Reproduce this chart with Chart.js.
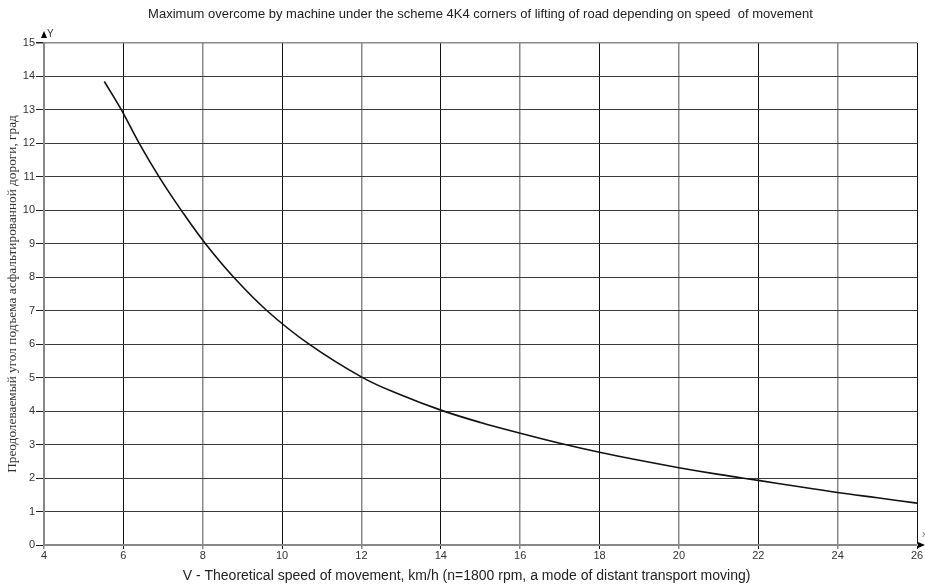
<!DOCTYPE html>
<html>
<head>
<meta charset="utf-8">
<script src="https://cdn.jsdelivr.net/npm/chart.js@4"></script>
<style>
html,body{margin:0;padding:0;background:#fff;}
#wrap{width:925px;height:586px;position:relative;}
</style>
</head>
<body>
<div id="wrap"><canvas id="c" width="925" height="586"></canvas></div>
<script>
const titleText = "Maximum overcome by machine under the scheme 4K4 corners of lifting of road depending on speed  of movement";
const xTitle = "V - Theoretical speed of movement, km/h (n=1800 rpm, a mode of distant transport moving)";
const yTitle = "Преодолеваемый угол подъема асфальтированной дороги, град";
const speeds = [5.52, 5.95, 6.4, 6.9, 7.46, 8.07, 8.78, 9.62, 10.68, 12.03, 13, 14, 15, 16, 17, 18, 19, 20, 21, 22, 23, 24, 25, 26];
const angles = [13.85, 13, 12, 11, 10, 9, 8, 7, 6, 5, 4.48, 4.03, 3.66, 3.34, 3.04, 2.77, 2.53, 2.31, 2.11, 1.93, 1.75, 1.57, 1.41, 1.25];
const xRange = [4, 26, 2];
const yRange = [0, 15, 1];

const extras = {
  id: 'extras',
  afterDraw(chart) {
    const {ctx, chartArea: a} = chart;
    ctx.save();
    ctx.fillStyle = '#000';
    ctx.beginPath();
    ctx.moveTo(a.left, a.top - 12);
    ctx.lineTo(a.left - 3, a.top - 5);
    ctx.lineTo(a.left + 3, a.top - 5);
    ctx.closePath();
    ctx.fill();
    ctx.font = '10px "Liberation Sans", Arial, sans-serif';
    ctx.fillStyle = '#333';
    ctx.textBaseline = 'middle';
    ctx.fillText('Y', a.left + 3, a.top - 9);
    ctx.fillStyle = '#000';
    ctx.beginPath();
    ctx.moveTo(a.right + 8, a.bottom);
    ctx.lineTo(a.right + 1, a.bottom - 3);
    ctx.lineTo(a.right + 1, a.bottom + 3);
    ctx.closePath();
    ctx.fill();
    ctx.fillStyle = '#555';
    ctx.font = '8px "Liberation Sans", Arial, sans-serif';
    ctx.fillText('X', a.right + 5, a.bottom - 10);
    // x axis title
    ctx.fillStyle = '#222';
    ctx.font = '14px "Liberation Sans", Arial, sans-serif';
    ctx.textAlign = 'center';
    ctx.textBaseline = 'middle';
    ctx.fillText(xTitle, a.left + a.width * 0.484, a.bottom + 31);
    ctx.restore();
  }
};

new Chart(document.getElementById('c'), {
  type: 'line',
  data: {
    datasets: [{
      data: speeds.map((v, i) => ({x: v, y: angles[i]})),
      borderColor: '#111',
      borderWidth: 1.6,
      pointRadius: 0,
      tension: 0.4,
      fill: false
    }]
  },
  options: {
    responsive: false,
    animation: false,
    layout: {padding: {left: 0, right: 8, top: 0, bottom: 0}},
    plugins: {
      legend: {display: false},
      tooltip: {enabled: false},
      title: {
        display: true,
        fullSize: false,
        text: titleText,
        color: '#222',
        font: {family: '"Liberation Sans", Arial, sans-serif', size: 13, weight: 'normal', lineHeight: 1.2},
        padding: {top: 6.5, bottom: 20.9}
      }
    },
    scales: {
      x: {
        type: 'linear',
        min: xRange[0], max: xRange[1],
        ticks: {
          stepSize: xRange[2],
          color: '#333',
          padding: 0,
          maxRotation: 0,
          font: {family: '"Liberation Sans", Arial, sans-serif', size: 11}
        },
        grid: {
          color: c => (c.index % 2 === 1 ? '#111' : '#8a8a8a'),
          lineWidth: c => (c.index % 2 === 1 ? 1 : 1.5),
          tickLength: 4
        },
        border: {color: '#888', width: 2},
        afterFit(s) { s.height = 41; }
      },
      y: {
        type: 'linear',
        min: yRange[0], max: yRange[1],
        ticks: {
          stepSize: yRange[2],
          color: '#333',
          padding: 1,
          font: {family: '"Liberation Sans", Arial, sans-serif', size: 11}
        },
        grid: {
          color: c => (c.index === 15 ? '#8a8a8a' : '#3a3a3a'),
          lineWidth: c => (c.index === 15 ? 1.5 : 1),
          tickLength: 8,
          tickColor: '#222'
        },
        border: {color: '#888', width: 2},
        title: {
          display: true,
          text: yTitle,
          color: '#333',
          font: {family: '"Liberation Serif", "Times New Roman", serif', size: 13.3, lineHeight: 1.2},
          padding: {top: 5, bottom: 0}
        },
        afterFit(s) { s.width = 44; }
      }
    }
  },
  plugins: [extras]
});
</script>
</body>
</html>
